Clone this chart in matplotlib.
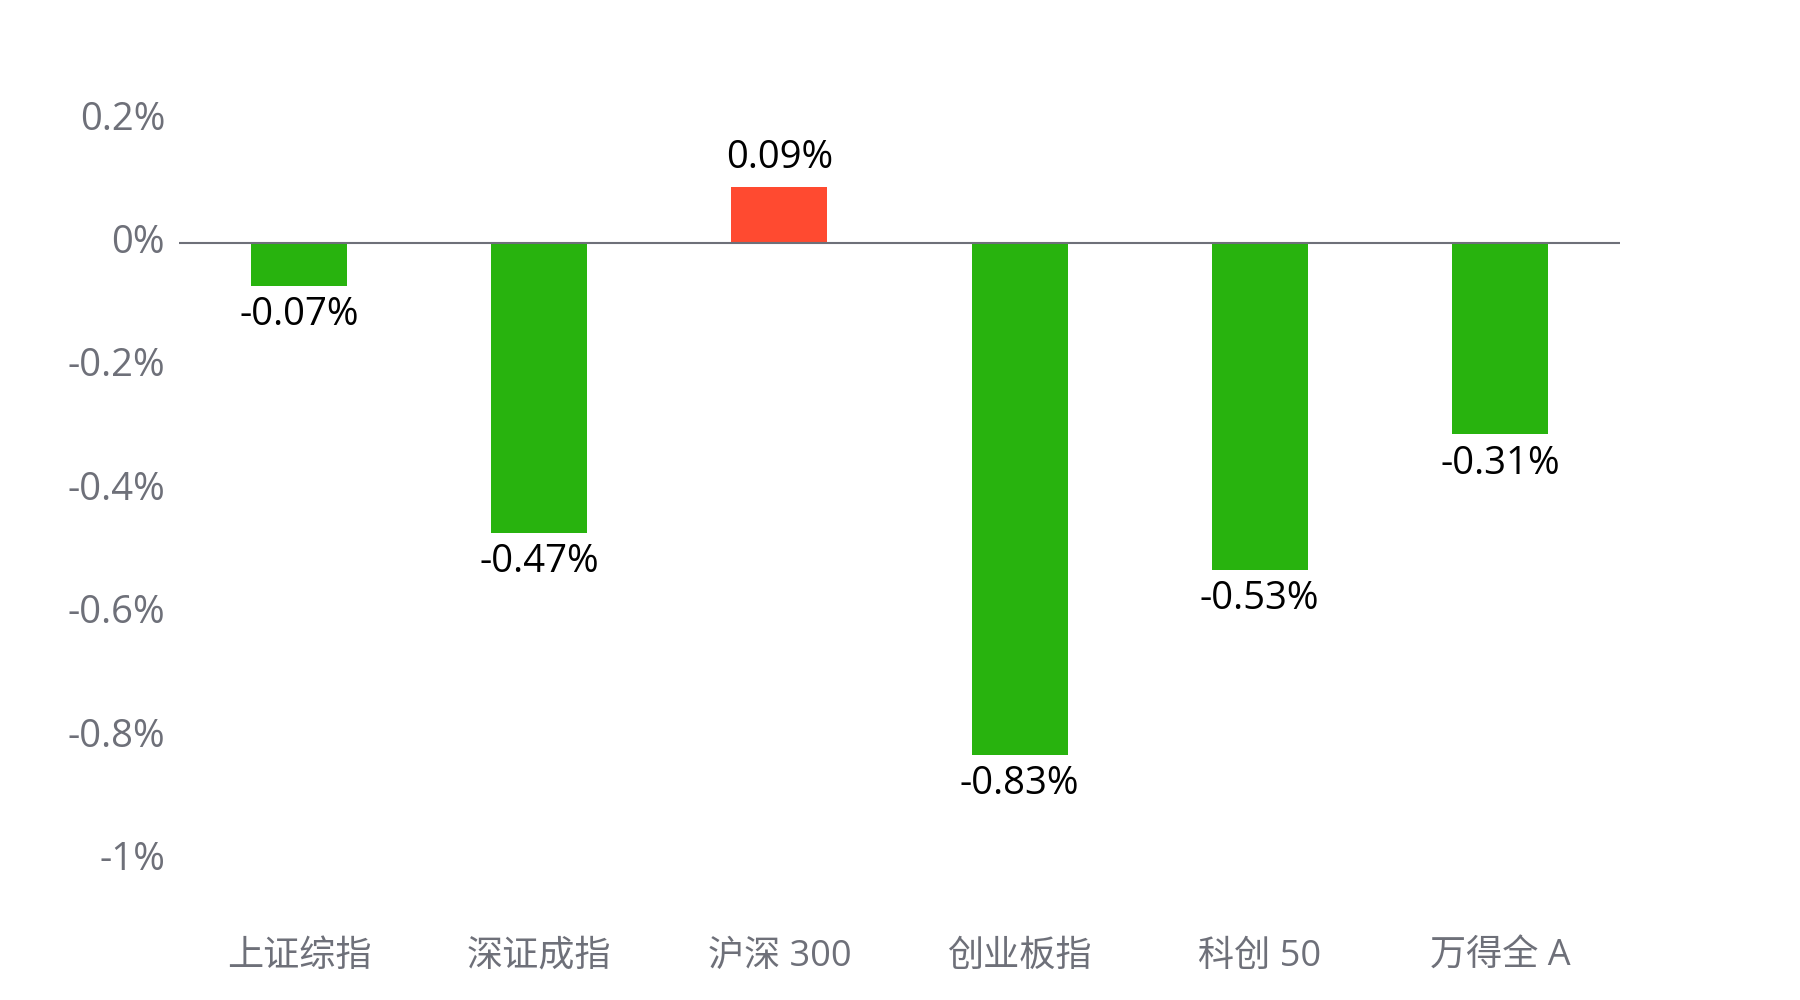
import matplotlib
matplotlib.use("Agg")
import matplotlib.pyplot as plt
import matplotlib.transforms as mtransforms

plt.rcParams['font.family'] = ['Noto Sans CJK SC', 'DejaVu Sans']
plt.rcParams['axes.unicode_minus'] = False

categories = ['上证综指', '深证成指', '沪深 300', '创业板指', '科创 50', '万得全 A']
values = [-0.07, -0.47, 0.09, -0.83, -0.53, -0.31]
yticks = [0.2, 0, -0.2, -0.4, -0.6, -0.8, -1.0]
ytick_labels = ['0.2%', '0%', '-0.2%', '-0.4%', '-0.6%', '-0.8%', '-1%']

GREEN = '#28B30E'
RED = '#FF4A30'
GREY = '#6E7079'
NUM_FONT = ['Open Sans', 'Noto Sans CJK SC', 'DejaVu Sans']

fig = plt.figure(figsize=(18, 10), dpi=100)
ax = fig.add_axes([0.0994, 0.1403, 0.8006, 0.7404])

x = list(range(len(categories)))
colors = [RED if v > 0 else GREEN for v in values]
ax.bar(x, values, width=0.4, color=colors, zorder=2)

ax.set_xlim(-0.5, len(categories) - 0.5)
ax.set_ylim(-1.0, 0.2)
ax.axhline(0, color=GREY, linewidth=1.5, zorder=3)

for xi, v in zip(x, values):
    if v >= 0:
        ax.annotate(f'{v:.2f}%', (xi, v), xytext=(0, 13.5), textcoords='offset points',
                    ha='center', va='baseline', fontsize=27.5, color='black',
                    family=NUM_FONT)
    else:
        ax.annotate(f'{v:.2f}%', (xi, v), xytext=(0, -28.5), textcoords='offset points',
                    ha='center', va='baseline', fontsize=27.5, color='black',
                    family=NUM_FONT)

ax.set_yticks(yticks)
ax.set_yticklabels(ytick_labels, fontsize=27.5, color=GREY, family=NUM_FONT)
ax.set_xticks(x)
ax.set_xticklabels(categories, fontsize=26, color=GREY, family=NUM_FONT)
ax.tick_params(axis='y', length=0, pad=10)
ax.tick_params(axis='x', length=0, pad=57)
shift = mtransforms.ScaledTranslation(0, 3 / 72, fig.dpi_scale_trans)
for lbl in ax.get_yticklabels():
    lbl.set_transform(lbl.get_transform() + shift)
for s in ax.spines.values():
    s.set_visible(False)

fig.savefig('out.png', dpi=100, facecolor='white')
